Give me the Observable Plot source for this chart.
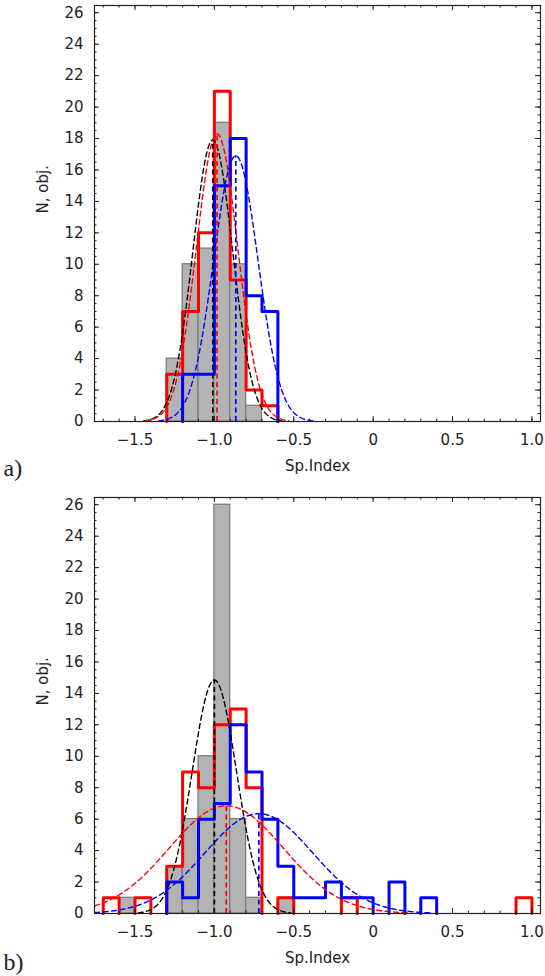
<!DOCTYPE html>
<html><head><meta charset="utf-8">
<script src="https://cdn.jsdelivr.net/npm/d3@7"></script>
<script src="https://cdn.jsdelivr.net/npm/@observablehq/plot@0.6"></script>
<style>body{margin:0;background:#fff} #chart svg{display:block}</style>
</head><body><div id="chart"></div>
<script>
// bin left edges (width 0.1)
const binLeft = [-1.7,-1.6,-1.5,-1.4,-1.3,-1.2,-1.1,-1.0,-0.9,-0.8,-0.7,-0.6,-0.5,-0.4,-0.3,-0.2,-0.1,0.0,0.1,0.2,0.3,0.4,0.5,0.6,0.7,0.8,0.9];
const binWidth = 0.1;

// panel a counts
const grayA = [0,0,0,0,4,10,11,19,10,1,0,0,0,0,0,0,0,0,0,0,0,0,0,0,0,0,0];
const redA  = [0,0,0,0,3,7,12,21,9,2,1,0,0,0,0,0,0,0,0,0,0,0,0,0,0,0,0];
const blueA = [0,0,0,0,0,3,3,15,18,8,7,0,0,0,0,0,0,0,0,0,0,0,0,0,0,0,0];
// panel b counts
const grayB = [0,1,0,0,3,6,10,26,6,1,0,1,0,0,0,0,0,0,0,0,0,0,0,0,0,0,0];
const redB  = [1,0,1,0,3,9,8,12,13,8,0,1,0,0,0,1,0,0,0,0,0,0,0,0,0,0,1];
const blueB = [0,0,0,0,2,1,6,7,12,9,6,3,1,1,2,1,1,0,2,0,1,0,0,0,0,0,0];

// gaussian fits: [black, red, blue]
const fitColors = ["#000000", "#ff0000", "#0000ff"];
const muA = [-1.01, -0.983, -0.865];
const sigmaA = [0.125, 0.13, 0.14];
const ampA = [17.9, 18.3, 16.9];
const muB = [-1.0, -0.925, -0.72];
const sigmaB = [0.14, 0.36, 0.34];
const ampB = [14.85, 6.85, 6.35];

// axis ticks
const xMajor = [-1.5, -1.0, -0.5, 0, 0.5, 1.0];
const xMinor = d3.range(-17, 11).map(i => i / 10);
const yMajor = d3.range(0, 27, 2);
const yMinor = d3.range(0, 53).map(i => i / 2);
const xDomain = [-1.755, 1.054];
const yDomain = [0, 26.46];

const W = 545, H = 488, mL = 94, mR = 5;
const fmt = d => d === 0 ? "0" : d3.format(".1f")(d).replace("-", "\u2212");

function stepRuns(counts) {
  const pts = []; let run = 0, inRun = false;
  counts.forEach((c, i) => {
    const x1 = binLeft[i];
    if (c > 0) {
      if (!inRun) { run++; inRun = true; pts.push({x: x1, y: 0, run}); }
      pts.push({x: x1, y: c, run});
    } else if (inRun) {
      pts.push({x: x1, y: 0, run}); inRun = false;
    }
  });
  if (inRun) pts.push({x: +(binLeft[binLeft.length - 1] + binWidth).toFixed(2), y: 0, run});
  return pts;
}

function chart(gray, red, blue, mu, sigma, amp, mT, mB, tag, tagDy, labDy) {
  const fw = W - mL - mR, fh = H - mT - mB;
  const rects = binLeft.map((x, i) => ({x1: x, x2: +(x + binWidth).toFixed(2), y: gray[i]})).filter(d => d.y > 0);
  const xs = d3.range(0, 563).map(i => xDomain[0] + i * 0.005);
  const curves = [];
  mu.forEach((m, k) => xs.forEach(x => {
    const y = amp[k] * Math.exp(-((x - m) ** 2) / (2 * sigma[k] ** 2));
    if (y > 0.04) curves.push({k, x, y});
  }));
  const verts = mu.map((m, k) => ({k, x: m, y: amp[k]}));
  const ink = "#222";
  return Plot.plot({
    width: W, height: H, marginLeft: mL, marginRight: mR, marginTop: mT, marginBottom: mB,
    style: {fontFamily: "DejaVu Sans, sans-serif", fontSize: "15px", color: ink, background: "#fff"},
    x: {domain: xDomain},
    y: {domain: yDomain},
    marks: [
      Plot.rectY(rects, {x1: "x1", x2: "x2", y: "y", fill: "#b3b3b3", stroke: "#777", strokeWidth: 1.2}),
      Plot.line(stepRuns(red), {x: "x", y: "y", z: "run", curve: "step-after", stroke: "#ff0000", strokeWidth: 3}),
      Plot.line(stepRuns(blue), {x: "x", y: "y", z: "run", curve: "step-after", stroke: "#0000ff", strokeWidth: 3}),
      Plot.line(curves, {x: "x", y: "y", z: "k", stroke: d => fitColors[d.k], strokeWidth: 1.4, strokeDasharray: "5,3.5", clip: true}),
      Plot.ruleX(verts, {x: "x", y1: 0, y2: "y", stroke: d => fitColors[d.k], strokeWidth: 1.7, strokeDasharray: "5,3.5"}),
      Plot.frame({stroke: ink, strokeWidth: 1.2}),
      Plot.tickX(xMinor, {x: d => d, insetTop: fh - 2.5, stroke: ink}),
      Plot.tickX(xMajor, {x: d => d, insetTop: fh - 5, stroke: ink}),
      Plot.tickX(xMinor, {x: d => d, insetBottom: fh - 2.5, stroke: ink}),
      Plot.tickX(xMajor, {x: d => d, insetBottom: fh - 5, stroke: ink}),
      Plot.tickY(yMinor, {y: d => d, insetRight: fw - 2.5, stroke: ink}),
      Plot.tickY(yMajor, {y: d => d, insetRight: fw - 5, stroke: ink}),
      Plot.tickY(yMinor, {y: d => d, insetLeft: fw - 2.5, stroke: ink}),
      Plot.tickY(yMajor, {y: d => d, insetLeft: fw - 5, stroke: ink}),
      Plot.axisX({ticks: xMajor, tickSize: 0, tickPadding: 13, tickFormat: fmt, label: null}),
      Plot.axisY({ticks: yMajor, tickSize: 0, tickPadding: 11, label: null}),
      Plot.text(["Sp.Index"], {text: d => d, frameAnchor: "bottom", dy: labDy, lineAnchor: "middle", fill: ink}),
      Plot.text(["N, obj."], {text: d => d, frameAnchor: "left", dx: -51, rotate: -90, lineAnchor: "middle", fill: ink}),
      Plot.text([tag], {text: d => d, frameAnchor: "bottom-left", dx: -91, dy: tagDy, textAnchor: "start", lineAnchor: "middle", fontFamily: "Liberation Serif, serif", fontSize: 24, fill: ink})
    ]
  });
}

const el = document.getElementById("chart");
el.append(chart(grayA, redA, blueA, muA, sigmaA, ampA, 5, 67, "a)", 47, 45));
el.append(chart(grayB, redB, blueB, muB, sigmaB, ampB, 9, 63, "b)", 49, 45));
</script>
</body></html>
